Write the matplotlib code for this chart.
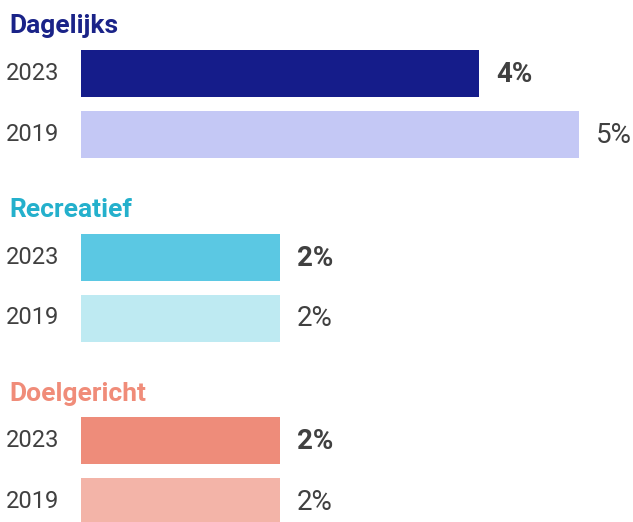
import matplotlib.pyplot as plt

plt.rcParams['font.family'] = ['Roboto', 'DejaVu Sans']

groups = ['Dagelijks', 'Recreatief', 'Doelgericht']
years = ['2023', '2019']
values_2023 = [4, 2, 2]
values_2019 = [5, 2, 2]
labels_2023 = ['4%', '2%', '2%']
labels_2019 = ['5%', '2%', '2%']

title_colors = ['#1a2388', '#24b0cc', '#f08c79']
colors_2023 = ['#151c8a', '#5bc8e3', '#ee8c7a']
colors_2019 = ['#c4c8f5', '#beeaf2', '#f3b4a8']
text_color = '#404040'

W, H = 633, 522
fig = plt.figure(figsize=(W / 100, H / 100), dpi=100)
left = 81
ax = fig.add_axes([left / W, 0, 1 - left / W, 1])
ax.set_xlim(0, (W - left) / 99.6)
ax.set_ylim(H, 0)
ax.axis('off')

group_step = 183.5
row_step = 61
first_bar = 73.5
bar_h = 47

for g, name in enumerate(groups):
    y0 = first_bar + g * group_step
    ax.text(-72 / 99.6, y0 - 47, name, color=title_colors[g], fontsize=19,
            fontweight='bold', va='center', ha='left')
    for r, (vals, labs, cols, weight) in enumerate([
            (values_2023, labels_2023, colors_2023, 'bold'),
            (values_2019, labels_2019, colors_2019, 'normal')]):
        y = y0 + r * row_step
        ax.barh(y, vals[g], height=bar_h, color=cols[g], left=0)
        ax.text(-75 / 99.6, y, years[r], color=text_color, fontsize=17,
                va='center', ha='left')
        ax.text(vals[g] + 17 / 99.6, y + 1, labs[g], color=text_color, fontsize=20,
                fontweight=weight, va='center', ha='left')

fig.savefig('out.png', dpi=100)
